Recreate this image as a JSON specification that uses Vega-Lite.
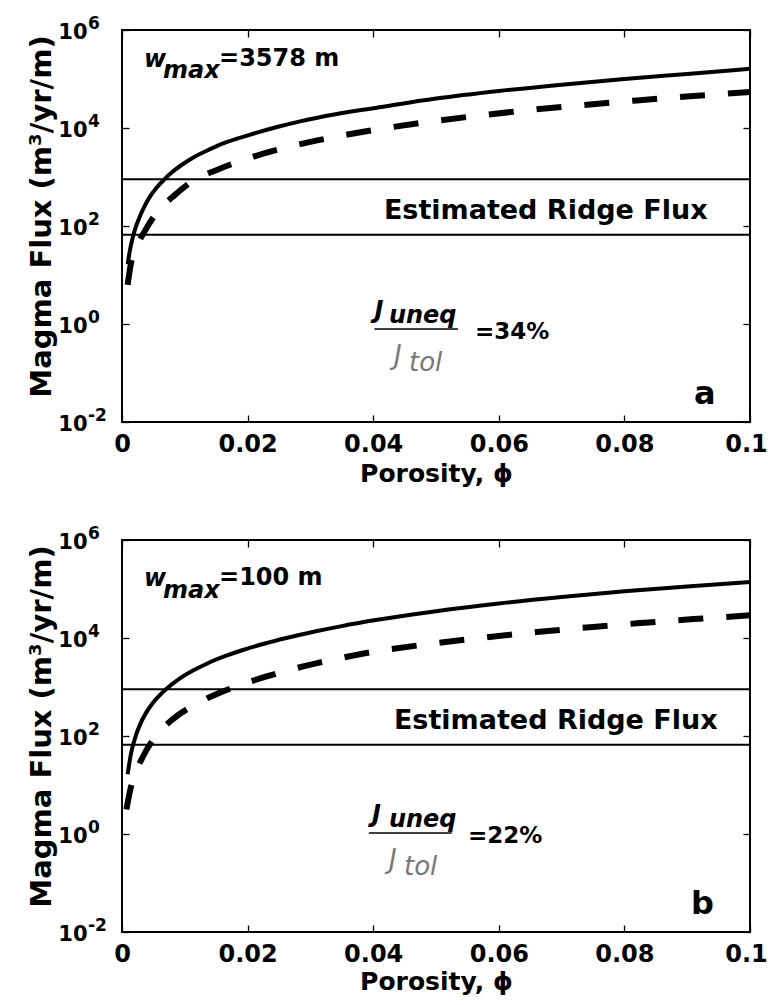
{
  "$schema": "https://vega.github.io/schema/vega-lite/v6.json",
  "background": "white",
  "padding": {"left": 25, "top": 14, "right": 0, "bottom": 0},
  "spacing": 37,
  "config": {
    "font": "DejaVu Sans",
    "view": {"stroke": "black", "strokeWidth": 2},
    "axis": {"domain": false, "grid": false, "tickColor": "black", "tickWidth": 1.3, "tickSize": -7, "labelColor": "black", "titleColor": "black", "labelFont": "DejaVu Sans", "titleFont": "DejaVu Sans", "labelFontWeight": "bold", "titleFontWeight": "bold", "labelOverlap": false, "labelFlush": false},
    "text": {"align": "left", "baseline": "alphabetic", "color": "black", "fontWeight": "bold"}
  },
  "datasets": {
    "a_curves": [
      {"phi": 0.00091, "flux": 16.6, "series": "total"},
      {"phi": 0.0012, "flux": 28.8, "series": "total"},
      {"phi": 0.0017, "flux": 57.5, "series": "total"},
      {"phi": 0.0022, "flux": 95.5, "series": "total"},
      {"phi": 0.00276, "flux": 148, "series": "total"},
      {"phi": 0.0035, "flux": 240, "series": "total"},
      {"phi": 0.00435, "flux": 380, "series": "total"},
      {"phi": 0.0055, "flux": 603, "series": "total"},
      {"phi": 0.00674, "flux": 891, "series": "total"},
      {"phi": 0.008, "flux": 1260, "series": "total"},
      {"phi": 0.00966, "flux": 1820, "series": "total"},
      {"phi": 0.0115, "flux": 2570, "series": "total"},
      {"phi": 0.0134, "flux": 3390, "series": "total"},
      {"phi": 0.016, "flux": 4790, "series": "total"},
      {"phi": 0.0203, "flux": 7240, "series": "total"},
      {"phi": 0.025, "flux": 10700, "series": "total"},
      {"phi": 0.0282, "flux": 13500, "series": "total"},
      {"phi": 0.034, "flux": 19100, "series": "total"},
      {"phi": 0.0404, "flux": 25700, "series": "total"},
      {"phi": 0.05, "flux": 39800, "series": "total"},
      {"phi": 0.06, "flux": 56900, "series": "total"},
      {"phi": 0.07, "flux": 76700, "series": "total"},
      {"phi": 0.08, "flux": 100000, "series": "total"},
      {"phi": 0.09, "flux": 127000, "series": "total"},
      {"phi": 0.1, "flux": 162000, "series": "total"},
      {"phi": 0.0009, "flux": 6.3, "series": "uneq"},
      {"phi": 0.0014, "flux": 16.6, "series": "uneq"},
      {"phi": 0.0022, "flux": 34.7, "series": "uneq"},
      {"phi": 0.00355, "flux": 75.9, "series": "uneq"},
      {"phi": 0.0051, "flux": 158, "series": "uneq"},
      {"phi": 0.0065, "flux": 257, "series": "uneq"},
      {"phi": 0.0083, "flux": 417, "series": "uneq"},
      {"phi": 0.0113, "flux": 832, "series": "uneq"},
      {"phi": 0.0152, "flux": 1410, "series": "uneq"},
      {"phi": 0.0187, "flux": 2090, "series": "uneq"},
      {"phi": 0.0229, "flux": 3090, "series": "uneq"},
      {"phi": 0.0266, "flux": 4140, "series": "uneq"},
      {"phi": 0.0309, "flux": 5520, "series": "uneq"},
      {"phi": 0.0346, "flux": 6850, "series": "uneq"},
      {"phi": 0.0389, "flux": 8590, "series": "uneq"},
      {"phi": 0.048, "flux": 12900, "series": "uneq"},
      {"phi": 0.057, "flux": 18000, "series": "uneq"},
      {"phi": 0.065, "flux": 23300, "series": "uneq"},
      {"phi": 0.073, "flux": 29100, "series": "uneq"},
      {"phi": 0.082, "flux": 36500, "series": "uneq"},
      {"phi": 0.091, "flux": 44900, "series": "uneq"},
      {"phi": 0.1, "flux": 54000, "series": "uneq"}
    ],
    "b_curves": [
      {"phi": 0.0009, "flux": 16.6, "series": "total"},
      {"phi": 0.0014, "flux": 41.7, "series": "total"},
      {"phi": 0.0022, "flux": 102, "series": "total"},
      {"phi": 0.0029, "flux": 175, "series": "total"},
      {"phi": 0.0038, "flux": 293, "series": "total"},
      {"phi": 0.005, "flux": 488, "series": "total"},
      {"phi": 0.007, "flux": 902, "series": "total"},
      {"phi": 0.009, "flux": 1430, "series": "total"},
      {"phi": 0.0113, "flux": 2160, "series": "total"},
      {"phi": 0.0135, "flux": 2990, "series": "total"},
      {"phi": 0.0166, "flux": 4350, "series": "total"},
      {"phi": 0.019, "flux": 5560, "series": "total"},
      {"phi": 0.0229, "flux": 7820, "series": "total"},
      {"phi": 0.026, "flux": 9890, "series": "total"},
      {"phi": 0.0309, "flux": 13700, "series": "total"},
      {"phi": 0.035, "flux": 17500, "series": "total"},
      {"phi": 0.0404, "flux": 23200, "series": "total"},
      {"phi": 0.05, "flux": 35300, "series": "total"},
      {"phi": 0.06, "flux": 50700, "series": "total"},
      {"phi": 0.07, "flux": 68700, "series": "total"},
      {"phi": 0.08, "flux": 89500, "series": "total"},
      {"phi": 0.09, "flux": 113000, "series": "total"},
      {"phi": 0.1, "flux": 139000, "series": "total"},
      {"phi": 0.0007, "flux": 3.16, "series": "uneq"},
      {"phi": 0.0014, "flux": 8.91, "series": "uneq"},
      {"phi": 0.0022, "flux": 18.4, "series": "uneq"},
      {"phi": 0.0033, "flux": 37.3, "series": "uneq"},
      {"phi": 0.0049, "flux": 82.2, "series": "uneq"},
      {"phi": 0.0081, "flux": 221, "series": "uneq"},
      {"phi": 0.0115, "flux": 431, "series": "uneq"},
      {"phi": 0.0152, "flux": 731, "series": "uneq"},
      {"phi": 0.0187, "flux": 1080, "series": "uneq"},
      {"phi": 0.0229, "flux": 1620, "series": "uneq"},
      {"phi": 0.0266, "flux": 2220, "series": "uneq"},
      {"phi": 0.0309, "flux": 3040, "series": "uneq"},
      {"phi": 0.0346, "flux": 3850, "series": "uneq"},
      {"phi": 0.0389, "flux": 4930, "series": "uneq"},
      {"phi": 0.049, "flux": 7570, "series": "uneq"},
      {"phi": 0.058, "flux": 10300, "series": "uneq"},
      {"phi": 0.066, "flux": 13200, "series": "uneq"},
      {"phi": 0.075, "flux": 16800, "series": "uneq"},
      {"phi": 0.082, "flux": 19900, "series": "uneq"},
      {"phi": 0.091, "flux": 24300, "series": "uneq"},
      {"phi": 0.1, "flux": 29000, "series": "uneq"}
    ],
    "ridge": [{"flux": 66}, {"flux": 900}],
    "exps": [
      {"flux": 1000000, "e": "6"},
      {"flux": 10000, "e": "4"},
      {"flux": 100, "e": "2"},
      {"flux": 1, "e": "0"},
      {"flux": 0.01, "e": "-2"}
    ],
    "a_text": [
      {"k": "it", "phi": 0.0035, "flux": 176000, "t": "w"},
      {"k": "it", "phi": 0.00653, "flux": 105000, "t": "max"},
      {"k": "rg", "phi": 0.01545, "flux": 184000, "t": "=3578 m"},
      {"k": "ridge", "phi": 0.0417, "flux": 139, "t": "Estimated Ridge Flux"},
      {"k": "fit", "phi": 0.0402, "flux": 1.32, "t": "J"},
      {"k": "fit", "phi": 0.0425, "flux": 1.05, "t": "uneq"},
      {"k": "fden", "phi": 0.0433, "flux": 0.153, "t": "J"},
      {"k": "fden", "phi": 0.0457, "flux": 0.11, "t": "tol"},
      {"k": "pct", "phi": 0.0562, "flux": 0.494, "t": "=34%"},
      {"k": "panel", "phi": 0.0911, "flux": 0.0233, "t": "a"}
    ],
    "b_text": [
      {"k": "it", "phi": 0.0035, "flux": 115000, "t": "w"},
      {"k": "it", "phi": 0.00653, "flux": 65500, "t": "max"},
      {"k": "rg", "phi": 0.01545, "flux": 121000, "t": "=100 m"},
      {"k": "ridge", "phi": 0.0433, "flux": 139, "t": "Estimated Ridge Flux"},
      {"k": "fit", "phi": 0.0398, "flux": 1.76, "t": "J"},
      {"k": "fit", "phi": 0.0425, "flux": 1.39, "t": "uneq"},
      {"k": "fden", "phi": 0.0425, "flux": 0.202, "t": "J"},
      {"k": "fden", "phi": 0.0449, "flux": 0.146, "t": "tol"},
      {"k": "pct", "phi": 0.0551, "flux": 0.655, "t": "=22%"},
      {"k": "panel", "phi": 0.0906, "flux": 0.0233, "t": "b"}
    ],
    "a_frac": [{"x1": 0.0402, "x2": 0.0535, "flux": 0.79}],
    "b_frac": [{"x1": 0.0393, "x2": 0.0525, "flux": 1.05}]
  },
  "vconcat": [
    {
      "width": 628, "height": 392,
      "resolve": {"axis": {"x": "independent", "y": "independent"}},
      "layer": [
        {
          "data": {"name": "a_curves"},
          "transform": [{"filter": "datum.series == 'total'"}],
          "mark": {"type": "line", "color": "black", "strokeWidth": 4, "interpolate": "monotone"},
          "encoding": {
            "x": {"field": "phi", "type": "quantitative", "scale": {"domain": [0, 0.1], "nice": false},
              "axis": {"orient": "bottom", "values": [0, 0.02, 0.04, 0.06, 0.08, 0.1], "labelExpr": "datum.value == 0 ? '0' : format(datum.value, '.2~f')", "labelFontSize": 24, "labelPadding": 17, "labelOffset": {"condition": {"test": "datum.value > 0.09", "value": -4}, "value": 0}, "title": "Porosity, ϕ", "titleFontSize": 25, "titlePadding": 5}},
            "y": {"field": "flux", "type": "quantitative", "scale": {"type": "log", "domain": [0.01, 1000000], "nice": false},
              "axis": {"orient": "left", "values": [0.01, 1, 100, 10000, 1000000], "labelExpr": "'10'", "labelFontSize": 21, "labelPadding": 42, "labelOffset": 2, "title": "Magma Flux (m³/yr/m)", "titleFontSize": 29, "titleX": -66, "titleY": 186}}
          }
        },
        {
          "data": {"name": "a_curves"},
          "transform": [{"filter": "datum.series == 'uneq'"}],
          "mark": {"type": "line", "color": "black", "strokeWidth": 6, "strokeDash": [25, 23], "strokeCap": "butt", "interpolate": "monotone"},
          "encoding": {
            "x": {"field": "phi", "type": "quantitative", "axis": {"orient": "top", "values": [0, 0.02, 0.04, 0.06, 0.08, 0.1], "labels": false, "title": null}},
            "y": {"field": "flux", "type": "quantitative", "axis": {"orient": "right", "values": [0.01, 1, 100, 10000, 1000000], "labels": false, "title": null}}
          }
        },
        {
          "data": {"name": "ridge"},
          "mark": {"type": "rule", "color": "black", "strokeWidth": 2},
          "encoding": {"y": {"field": "flux", "type": "quantitative", "axis": null}}
        },
        {
          "data": {"name": "a_frac"},
          "mark": {"type": "rule", "color": "black", "strokeWidth": 1.5},
          "encoding": {"x": {"field": "x1", "type": "quantitative", "axis": null}, "x2": {"field": "x2"}, "y": {"field": "flux", "type": "quantitative", "axis": null}}
        },
        {
          "data": {"name": "a_text"}, "transform": [{"filter": "datum.k == 'it'"}],
          "mark": {"type": "text", "fontSize": 24, "fontStyle": "italic"},
          "encoding": {"x": {"field": "phi", "type": "quantitative", "axis": null}, "y": {"field": "flux", "type": "quantitative", "axis": null}, "text": {"field": "t"}}
        },
        {
          "data": {"name": "a_text"}, "transform": [{"filter": "datum.k == 'rg'"}],
          "mark": {"type": "text", "fontSize": 24},
          "encoding": {"x": {"field": "phi", "type": "quantitative", "axis": null}, "y": {"field": "flux", "type": "quantitative", "axis": null}, "text": {"field": "t"}}
        },
        {
          "data": {"name": "a_text"}, "transform": [{"filter": "datum.k == 'ridge'"}],
          "mark": {"type": "text", "fontSize": 27},
          "encoding": {"x": {"field": "phi", "type": "quantitative", "axis": null}, "y": {"field": "flux", "type": "quantitative", "axis": null}, "text": {"field": "t"}}
        },
        {
          "data": {"name": "a_text"}, "transform": [{"filter": "datum.k == 'fit'"}],
          "mark": {"type": "text", "fontSize": 24, "fontStyle": "italic"},
          "encoding": {"x": {"field": "phi", "type": "quantitative", "axis": null}, "y": {"field": "flux", "type": "quantitative", "axis": null}, "text": {"field": "t"}}
        },
        {
          "data": {"name": "a_text"}, "transform": [{"filter": "datum.k == 'fden'"}],
          "mark": {"type": "text", "fontSize": 26, "fontStyle": "italic", "fontWeight": "normal", "color": "#777777"},
          "encoding": {"x": {"field": "phi", "type": "quantitative", "axis": null}, "y": {"field": "flux", "type": "quantitative", "axis": null}, "text": {"field": "t"}}
        },
        {
          "data": {"name": "a_text"}, "transform": [{"filter": "datum.k == 'pct'"}],
          "mark": {"type": "text", "fontSize": 23},
          "encoding": {"x": {"field": "phi", "type": "quantitative", "axis": null}, "y": {"field": "flux", "type": "quantitative", "axis": null}, "text": {"field": "t"}}
        },
        {
          "data": {"name": "a_text"}, "transform": [{"filter": "datum.k == 'panel'"}],
          "mark": {"type": "text", "fontSize": 32},
          "encoding": {"x": {"field": "phi", "type": "quantitative", "axis": null}, "y": {"field": "flux", "type": "quantitative", "axis": null}, "text": {"field": "t"}}
        },
        {
          "data": {"name": "exps"},
          "mark": {"type": "text", "fontSize": 17, "dx": -34, "dy": -1},
          "encoding": {"x": {"datum": 0, "type": "quantitative", "axis": null}, "y": {"field": "flux", "type": "quantitative", "axis": null}, "text": {"field": "e"}}
        }
      ]
    },
    {
      "width": 628, "height": 392,
      "resolve": {"axis": {"x": "independent", "y": "independent"}},
      "layer": [
        {
          "data": {"name": "b_curves"},
          "transform": [{"filter": "datum.series == 'total'"}],
          "mark": {"type": "line", "color": "black", "strokeWidth": 4, "interpolate": "monotone"},
          "encoding": {
            "x": {"field": "phi", "type": "quantitative", "scale": {"domain": [0, 0.1], "nice": false},
              "axis": {"orient": "bottom", "values": [0, 0.02, 0.04, 0.06, 0.08, 0.1], "labelExpr": "datum.value == 0 ? '0' : format(datum.value, '.2~f')", "labelFontSize": 24, "labelPadding": 17, "labelOffset": {"condition": {"test": "datum.value > 0.09", "value": -4}, "value": 0}, "title": "Porosity, ϕ", "titleFontSize": 25, "titlePadding": 3}},
            "y": {"field": "flux", "type": "quantitative", "scale": {"type": "log", "domain": [0.01, 1000000], "nice": false},
              "axis": {"orient": "left", "values": [0.01, 1, 100, 10000, 1000000], "labelExpr": "'10'", "labelFontSize": 21, "labelPadding": 42, "labelOffset": 2, "title": "Magma Flux (m³/yr/m)", "titleFontSize": 29, "titleX": -66, "titleY": 186}}
          }
        },
        {
          "data": {"name": "b_curves"},
          "transform": [{"filter": "datum.series == 'uneq'"}],
          "mark": {"type": "line", "color": "black", "strokeWidth": 6, "strokeDash": [25, 23], "strokeCap": "butt", "interpolate": "monotone"},
          "encoding": {
            "x": {"field": "phi", "type": "quantitative", "axis": {"orient": "top", "values": [0, 0.02, 0.04, 0.06, 0.08, 0.1], "labels": false, "title": null}},
            "y": {"field": "flux", "type": "quantitative", "axis": {"orient": "right", "values": [0.01, 1, 100, 10000, 1000000], "labels": false, "title": null}}
          }
        },
        {
          "data": {"name": "ridge"},
          "mark": {"type": "rule", "color": "black", "strokeWidth": 2},
          "encoding": {"y": {"field": "flux", "type": "quantitative", "axis": null}}
        },
        {
          "data": {"name": "b_frac"},
          "mark": {"type": "rule", "color": "black", "strokeWidth": 1.5},
          "encoding": {"x": {"field": "x1", "type": "quantitative", "axis": null}, "x2": {"field": "x2"}, "y": {"field": "flux", "type": "quantitative", "axis": null}}
        },
        {
          "data": {"name": "b_text"}, "transform": [{"filter": "datum.k == 'it'"}],
          "mark": {"type": "text", "fontSize": 24, "fontStyle": "italic"},
          "encoding": {"x": {"field": "phi", "type": "quantitative", "axis": null}, "y": {"field": "flux", "type": "quantitative", "axis": null}, "text": {"field": "t"}}
        },
        {
          "data": {"name": "b_text"}, "transform": [{"filter": "datum.k == 'rg'"}],
          "mark": {"type": "text", "fontSize": 24},
          "encoding": {"x": {"field": "phi", "type": "quantitative", "axis": null}, "y": {"field": "flux", "type": "quantitative", "axis": null}, "text": {"field": "t"}}
        },
        {
          "data": {"name": "b_text"}, "transform": [{"filter": "datum.k == 'ridge'"}],
          "mark": {"type": "text", "fontSize": 27},
          "encoding": {"x": {"field": "phi", "type": "quantitative", "axis": null}, "y": {"field": "flux", "type": "quantitative", "axis": null}, "text": {"field": "t"}}
        },
        {
          "data": {"name": "b_text"}, "transform": [{"filter": "datum.k == 'fit'"}],
          "mark": {"type": "text", "fontSize": 24, "fontStyle": "italic"},
          "encoding": {"x": {"field": "phi", "type": "quantitative", "axis": null}, "y": {"field": "flux", "type": "quantitative", "axis": null}, "text": {"field": "t"}}
        },
        {
          "data": {"name": "b_text"}, "transform": [{"filter": "datum.k == 'fden'"}],
          "mark": {"type": "text", "fontSize": 26, "fontStyle": "italic", "fontWeight": "normal", "color": "#777777"},
          "encoding": {"x": {"field": "phi", "type": "quantitative", "axis": null}, "y": {"field": "flux", "type": "quantitative", "axis": null}, "text": {"field": "t"}}
        },
        {
          "data": {"name": "b_text"}, "transform": [{"filter": "datum.k == 'pct'"}],
          "mark": {"type": "text", "fontSize": 23},
          "encoding": {"x": {"field": "phi", "type": "quantitative", "axis": null}, "y": {"field": "flux", "type": "quantitative", "axis": null}, "text": {"field": "t"}}
        },
        {
          "data": {"name": "b_text"}, "transform": [{"filter": "datum.k == 'panel'"}],
          "mark": {"type": "text", "fontSize": 32},
          "encoding": {"x": {"field": "phi", "type": "quantitative", "axis": null}, "y": {"field": "flux", "type": "quantitative", "axis": null}, "text": {"field": "t"}}
        },
        {
          "data": {"name": "exps"},
          "mark": {"type": "text", "fontSize": 17, "dx": -34, "dy": -1},
          "encoding": {"x": {"datum": 0, "type": "quantitative", "axis": null}, "y": {"field": "flux", "type": "quantitative", "axis": null}, "text": {"field": "e"}}
        }
      ]
    }
  ]
}
